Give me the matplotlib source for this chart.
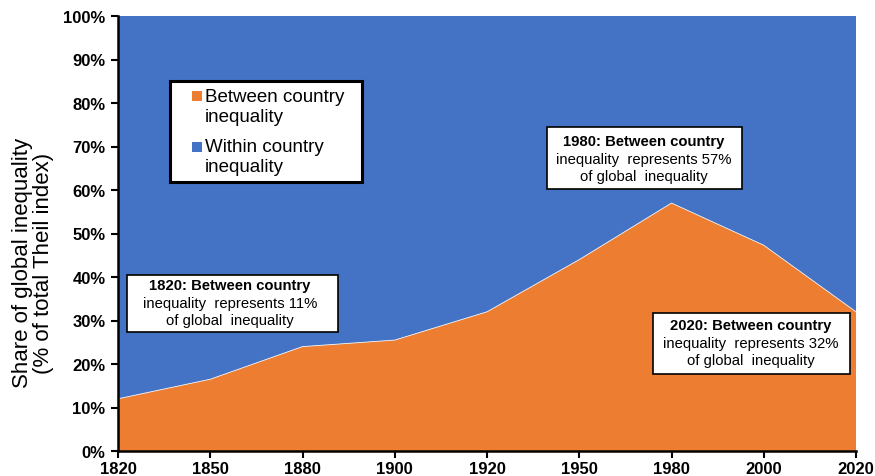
import matplotlib
matplotlib.use("Agg")
import matplotlib.pyplot as plt
from matplotlib.patches import Rectangle
import numpy as np

years = ["1820", "1850", "1880", "1900", "1920", "1950", "1980", "2000", "2020"]
between = [12.0, 16.5, 24.0, 25.5, 32.0, 44.0, 57.0, 47.3, 32.0]
within = [100 - b for b in between]
yticks = [0, 10, 20, 30, 40, 50, 60, 70, 80, 90, 100]
series_names = ["Between country\ninequality", "Within country\ninequality"]

plt.rcParams['font.family'] = ['Liberation Sans', 'DejaVu Sans']

W, H = 875, 477
fig = plt.figure(figsize=(W / 100, H / 100), dpi=100)
ax = fig.add_axes([118 / W, 1 - 452 / H, (856 - 118) / W, (452 - 17) / H])

x = np.arange(len(years))
orange = "#ED7D31"
blue = "#4472C4"
ax.stackplot(x, between, within, colors=[orange, blue], linewidth=0)
ax.plot(x, between, color="#f2f2f2", linewidth=0.6)

ax.set_xlim(0, len(years) - 1)
ax.set_ylim(0, 100)
ax.set_xticks(x)
ax.set_xticklabels(years, fontweight="bold", fontsize=12)
ax.set_yticks(yticks)
ax.set_yticklabels([f"{v}%" for v in yticks], fontweight="bold", fontsize=12)
ax.tick_params(axis="both", direction="out", length=5, width=1.5, color="black")
ax.tick_params(axis="x", pad=2)
ax.tick_params(axis="y", pad=4)
for s in ["top", "right"]:
    ax.spines[s].set_visible(False)
for s in ["left", "bottom"]:
    ax.spines[s].set_linewidth(1.8)
    ax.spines[s].set_zorder(5)


# figure-pixel helper (from top-left)
def fx(px):
    return px / W

def fy(py):
    return 1 - py / H

fig.text(fx(33), fy(263), "Share of global inequality\n(% of total Theil index)", rotation=90,
         ha="center", va="center", fontsize=16, linespacing=1.05)

# manual legend
fig.patches.append(Rectangle((fx(170), fy(183)), (362 - 170) / W, (183 - 82) / H,
                             transform=fig.transFigure, facecolor="white", edgecolor="black",
                             linewidth=2.2, zorder=6))
for (sq_top, txt_y, name, col) in [(92, 99, series_names[0], orange), (143, 149, series_names[1], blue)]:
    fig.patches.append(Rectangle((fx(192), fy(sq_top + 10)), 10 / W, 10 / H,
                                 transform=fig.transFigure, facecolor=col, edgecolor="none", zorder=7))
    fig.text(fx(205), fy(txt_y - 10), name, ha="left", va="top", fontsize=13.5,
             linespacing=1.22, zorder=8)

# annotation boxes: bold first line, regular following lines
def note_box(x0, y0, x1, y1, xc, line_ys, year, pct):
    fig.patches.append(Rectangle((fx(x0), fy(y1)), (x1 - x0) / W, (y1 - y0) / H,
                                 transform=fig.transFigure, facecolor="white", edgecolor="black",
                                 linewidth=1.2, zorder=6))
    lines = [f"{year}: Between country", f"inequality  represents {pct}", "of global  inequality"]
    for i, (ly, t) in enumerate(zip(line_ys, lines)):
        fig.text(fx(xc), fy(ly), t, ha="center", va="center", fontsize=10.7,
                 fontweight="bold" if i == 0 else "normal", zorder=8)

note_box(127, 276, 338, 333, 230, [286, 304, 321], "1820", "11%")
note_box(547, 128, 742, 190, 644, [142, 160, 177], "1980", "57%")
note_box(653, 314, 850, 375, 751, [326, 344, 361], "2020", "32%")

fig.savefig("out.png", dpi=100)
